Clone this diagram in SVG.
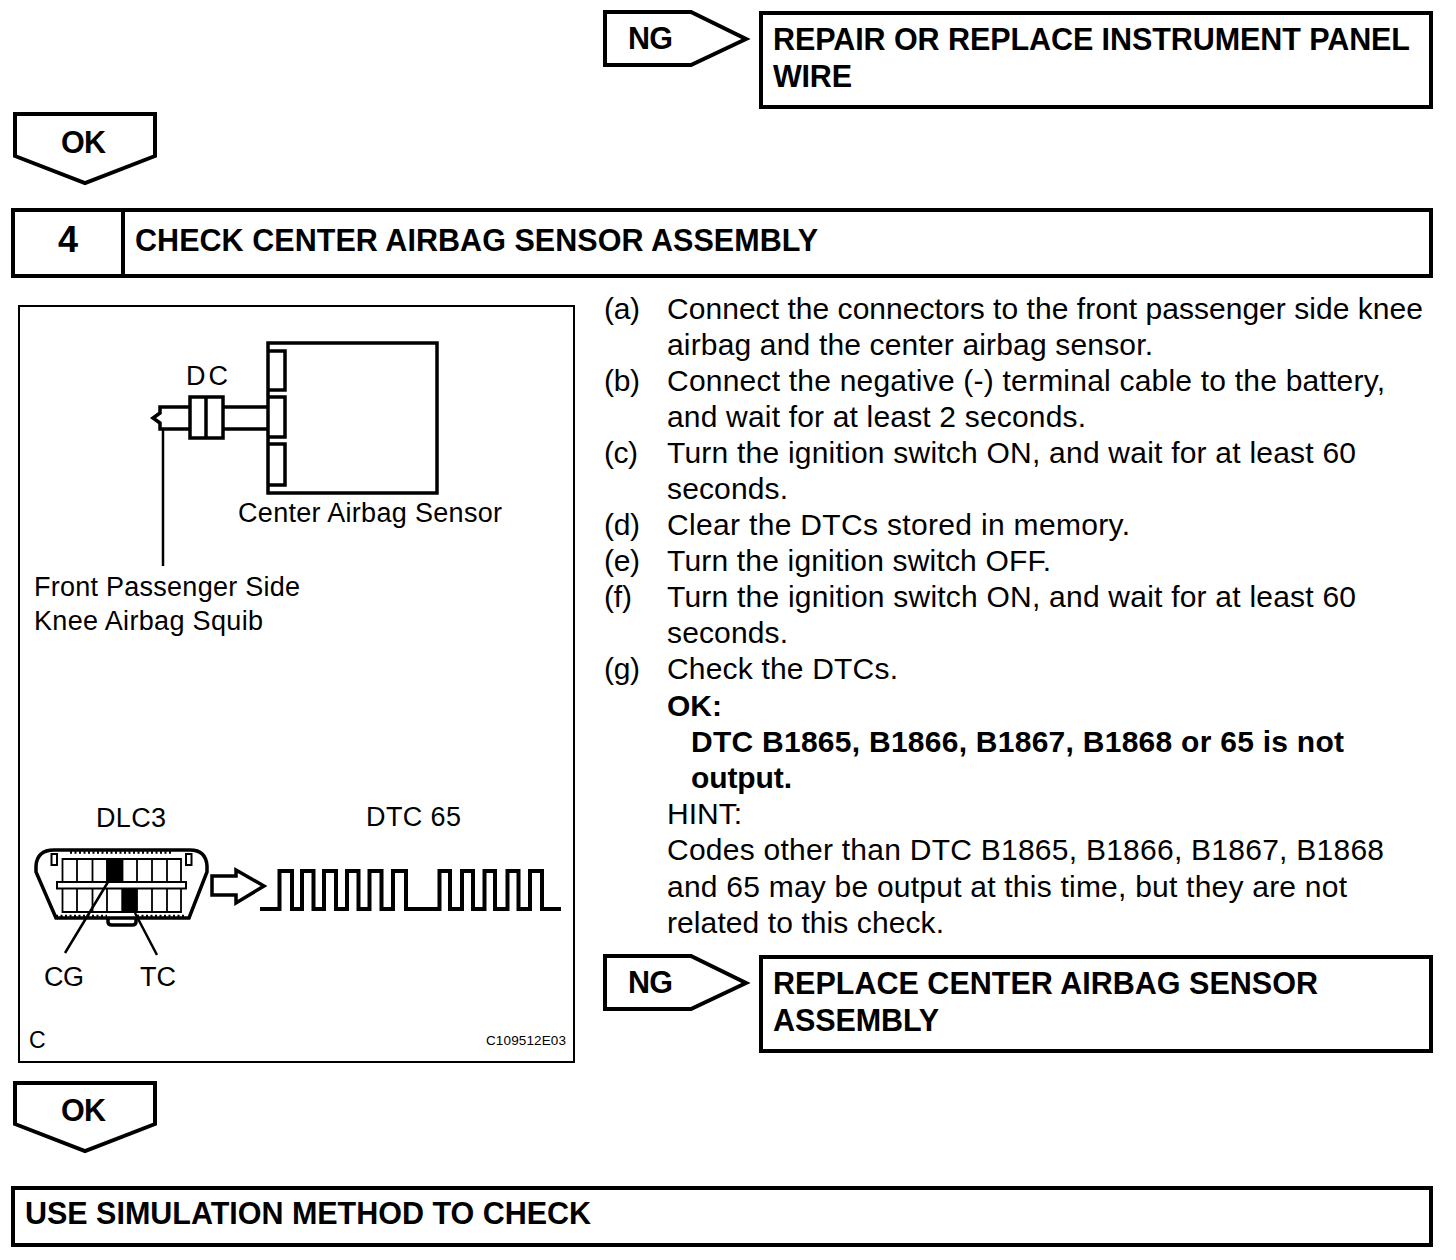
<svg xmlns="http://www.w3.org/2000/svg" width="1456" height="1260" viewBox="0 0 1456 1260">
<style>
text{font-family:"Liberation Sans",Arial,sans-serif;fill:#000}
.b{font-weight:bold;font-size:30.500px}
.t{font-size:30px}
.k{font-size:30px;font-weight:bold}
.l{font-size:27px}
.box{fill:#fff;stroke:#000;stroke-width:4}
.ln{fill:none;stroke:#000;stroke-width:3.5}
.th{fill:none;stroke:#000;stroke-width:2.500}
.fine{fill:none;stroke:#000;stroke-width:1.800}
.sq{fill:#fff;stroke:#000;stroke-width:2}
</style>
<rect width="1456" height="1260" fill="#fff"/>
<g id="ng1"><path class="box" d="M605 12H691L746 39L691 65H605Z"/><text class="b" x="628" y="49" textLength="45">NG</text></g>
<g id="repair"><rect class="box" x="761" y="13" width="670" height="94"/><text class="b" x="773" y="50" textLength="637">REPAIR OR REPLACE INSTRUMENT PANEL</text><text class="b" x="773" y="87" textLength="79">WIRE</text></g>
<g id="ok1"><path class="box" d="M15 114H155V156L85 183L15 156Z"/><text class="b" x="61" y="153" textLength="45">OK</text></g>
<g id="step4"><rect class="box" x="13" y="210" width="1418" height="66"/><path class="box" d="M123 210V276"/><text x="58" y="252" style="font-weight:bold;font-size:36px">4</text><text class="b" x="135" y="251" textLength="683">CHECK CENTER AIRBAG SENSOR ASSEMBLY</text></g>
<g id="figure">
<rect x="19" y="306" width="555" height="756" fill="#fff" stroke="#000" stroke-width="2"/>
<rect class="ln" x="268" y="343" width="169" height="150"/>
<path class="ln" d="M268 351H285V390H268M268 397H285V437H268M268 444H285V485H268"/>
<path class="ln" d="M189 407H160V413L153 418L160 423V429H189M224 407H268M224 429H268"/>
<rect class="ln" x="190" y="397" width="33" height="41"/><path class="ln" d="M206 397V438"/>
<path class="th" d="M163 430V566"/>
<text class="l" x="186" y="385" textLength="42">DC</text>
<text class="l" x="238" y="522" textLength="264">Center Airbag Sensor</text>
<text class="l" x="34" y="596" textLength="266">Front Passenger Side</text>
<text class="l" x="34" y="630" textLength="229">Knee Airbag Squib</text>
<text class="l" x="96" y="827" textLength="70">DLC3</text>
<text class="l" x="366" y="826" textLength="95">DTC 65</text>
<path class="ln" d="M70 850H190Q206 850 207 866V872L189 918H56L36 872V866Q37 850 54 850Z"/>
<path class="th" stroke-dasharray="2 2.500" d="M70 852.500H173M56 916H107M137 916H185"/>
<path class="fine" d="M62.500 859V912H181V859H62.500ZM77 859V912M92.500 859V912M107 859V912M122.500 859V912M137 859V912M152 859V912M167 859V912"/>
<rect x="106.500" y="859" width="16" height="24" fill="#000"/><rect x="121.500" y="889" width="15.500" height="24" fill="#000"/>
<rect x="57" y="882" width="129" height="6.500" class="sq"/>
<rect x="51.500" y="854" width="5.500" height="11" class="sq"/>
<rect x="186" y="854" width="5.500" height="11" class="sq"/>
<path class="ln" d="M108 919V922Q108 925 112 925H132Q136 925 136 922V919"/>
<path class="th" d="M108 882L65 953M135 913L157 955"/>
<path class="ln" d="M212 876H236V870L264 886L236 903V895H212Z"/>
<path fill="none" stroke="#000" stroke-width="4" d="M260 909H279.500V871H292V909H302V871H313.500V909H324V871H336V909H347V871H358.500V909H369.500V871H381.500V909H393V871H406V909H439.500V871H450V909H462V871H473V909H484.500V871H495V909H507.500V871H518.500V909H530V871H542V909H561"/>
<text class="l" x="44" y="986" textLength="40">CG</text>
<text class="l" x="140" y="986" textLength="36">TC</text>
<text x="29" y="1048" style="font-size:23px">C</text>
<text x="486" y="1045" style="font-size:13.500px" textLength="80">C109512E03</text>
</g>
<g id="steps">
<text class="t" x="604" y="319" textLength="36">(a)</text><text class="t" x="667" y="319" textLength="756">Connect the connectors to the front passenger side knee</text>
<text class="t" x="667" y="355" textLength="486">airbag and the center airbag sensor.</text>
<text class="t" x="604" y="391" textLength="36">(b)</text><text class="t" x="667" y="391" textLength="718">Connect the negative (-) terminal cable to the battery,</text>
<text class="t" x="667" y="427" textLength="419">and wait for at least 2 seconds.</text>
<text class="t" x="604" y="463" textLength="34">(c)</text><text class="t" x="667" y="463" textLength="689">Turn the ignition switch ON, and wait for at least 60</text>
<text class="t" x="667" y="499" textLength="121">seconds.</text>
<text class="t" x="604" y="535" textLength="36">(d)</text><text class="t" x="667" y="535" textLength="463">Clear the DTCs stored in memory.</text>
<text class="t" x="604" y="571" textLength="36">(e)</text><text class="t" x="667" y="571" textLength="384">Turn the ignition switch OFF.</text>
<text class="t" x="604" y="607" textLength="28">(f)</text><text class="t" x="667" y="607" textLength="689">Turn the ignition switch ON, and wait for at least 60</text>
<text class="t" x="667" y="643" textLength="121">seconds.</text>
<text class="t" x="604" y="679" textLength="36">(g)</text><text class="t" x="667" y="679" textLength="231">Check the DTCs.</text>
<text class="k" x="667" y="716" textLength="55">OK:</text>
<text class="k" x="691" y="752" textLength="653">DTC B1865, B1866, B1867, B1868 or 65 is not</text>
<text class="k" x="691" y="788" textLength="101">output.</text>
<text class="t" x="667" y="824" textLength="75">HINT:</text>
<text class="t" x="667" y="860" textLength="717">Codes other than DTC B1865, B1866, B1867, B1868</text>
<text class="t" x="667" y="897" textLength="680">and 65 may be output at this time, but they are not</text>
<text class="t" x="667" y="933" textLength="277">related to this check.</text>
</g>
<g id="ng2"><path class="box" d="M605 956H691L746 983L691 1009H605Z"/><text class="b" x="628" y="993" textLength="45">NG</text></g>
<g id="replace"><rect class="box" x="761" y="957" width="670" height="94"/><text class="b" x="773" y="994" textLength="545">REPLACE CENTER AIRBAG SENSOR</text><text class="b" x="773" y="1031" textLength="166">ASSEMBLY</text></g>
<g id="ok2"><path class="box" d="M15 1083H155V1124L85 1151L15 1124Z"/><text class="b" x="61" y="1121" textLength="45">OK</text></g>
<g id="simulation"><rect class="box" x="13" y="1188" width="1418" height="57"/><text class="b" x="25" y="1224" textLength="566">USE SIMULATION METHOD TO CHECK</text></g>
<g id="connectors"></g>
</svg>
